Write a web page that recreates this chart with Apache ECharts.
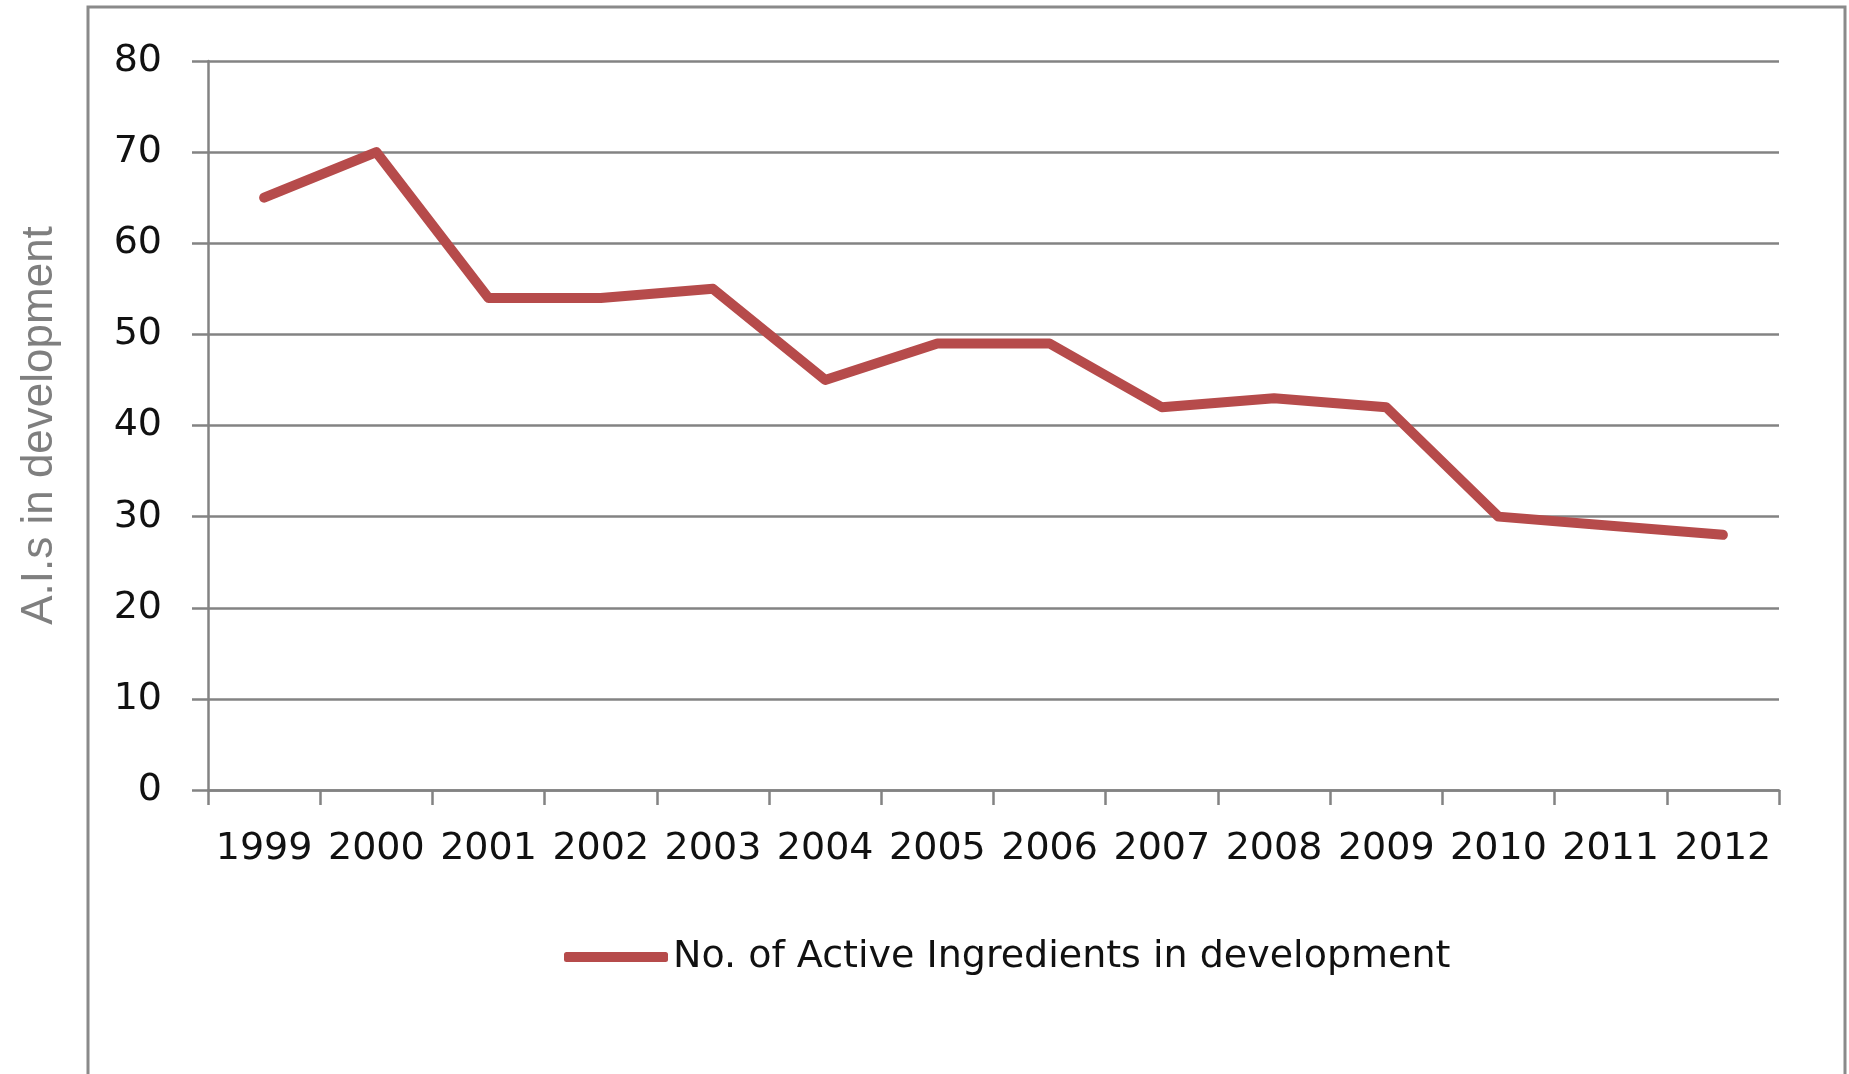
<!DOCTYPE html>
<html>
<head>
<meta charset="utf-8">
<script src="https://cdn.jsdelivr.net/npm/echarts@6/dist/echarts.min.js"></script>
<style>
html,body{margin:0;padding:0;background:#fff;}
#chart{width:1849px;height:1074px;}
</style>
</head>
<body>
<div id="chart"></div>
<script>
const years = ['1999','2000','2001','2002','2003','2004','2005','2006','2007','2008','2009','2010','2011','2012'];
const activeIngredients = [65, 70, 54, 54, 55, 45, 49, 49, 42, 43, 42, 30, 29, 28];
const seriesName = 'No. of Active Ingredients in development';
const yAxisTitle = 'A.I.s in development';

const gray = '#838383';
const chart = echarts.init(document.getElementById('chart'));
chart.setOption({
  animation: false,
  backgroundColor: '#ffffff',
  graphic: [{
    type: 'rect',
    shape: { x: 88, y: 7, width: 1757, height: 1100 },
    style: { fill: 'none', stroke: '#8a8a8a', lineWidth: 3 },
    silent: true,
    z: -1
  }],
  grid: { left: 208, top: 61, right: 70, bottom: 284, containLabel: false },
  legend: {
    left: 564,
    top: 936,
    padding: 0,
    itemWidth: 104,
    itemHeight: 10,
    itemGap: 5,
    data: [{ name: seriesName, icon: 'roundRect' }],
    textStyle: { fontFamily: 'DejaVu Sans', fontSize: 38, color: '#111', lineHeight: 42 }
  },
  xAxis: {
    type: 'category',
    data: years,
    boundaryGap: true,
    axisLine: { show: true, lineStyle: { color: gray, width: 2.5 } },
    axisTick: { show: true, interval: 0, length: 15, lineStyle: { color: gray, width: 2.5 } },
    axisLabel: { interval: 0, margin: 40, fontFamily: 'DejaVu Sans', fontSize: 38, color: '#111' },
    splitLine: { show: false }
  },
  yAxis: {
    type: 'value',
    min: 0, max: 80, interval: 10,
    name: yAxisTitle,
    nameLocation: 'middle',
    nameRotate: 90,
    nameGap: 146,
    nameTextStyle: { fontFamily: 'Liberation Sans', fontSize: 44, color: '#7f7f7f' },
    axisLine: { show: true, lineStyle: { color: gray, width: 2.5 } },
    axisTick: { show: true, length: 16, lineStyle: { color: gray, width: 2.5 } },
    axisLabel: { margin: 46, fontFamily: 'DejaVu Sans', fontSize: 38, color: '#111', padding: [10, 0, 0, 0] },
    splitLine: { show: true, lineStyle: { color: gray, width: 2.5 } }
  },
  series: [{
    name: seriesName,
    type: 'line',
    data: activeIngredients,
    showSymbol: false,
    symbol: 'none',
    itemStyle: { color: '#B64B4B' },
    lineStyle: { color: '#B64B4B', width: 10, cap: 'round', join: 'round' }
  }]
});
</script>
</body>
</html>
